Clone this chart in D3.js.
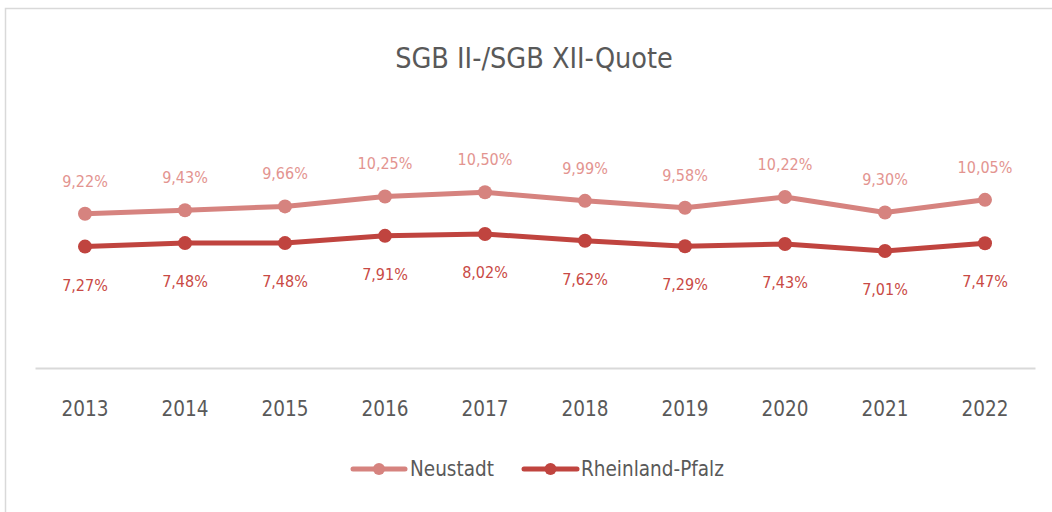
<!DOCTYPE html>
<html><head><meta charset="utf-8">
<script src="https://cdn.jsdelivr.net/npm/d3@7"></script>
<style>
html,body{margin:0;padding:0;background:#fff;}
svg text{font-family:"DejaVu Sans Condensed","Open Sans",sans-serif;}
</style></head>
<body><svg id="c" width="1052" height="512"></svg>
<script>
const years = ["2013","2014","2015","2016","2017","2018","2019","2020","2021","2022"];
const neustadt = [9.22,9.43,9.66,10.25,10.50,9.99,9.58,10.22,9.30,10.05];
const rlp = [7.27,7.48,7.48,7.91,8.02,7.62,7.29,7.43,7.01,7.47];
const seriesNames = ["Neustadt","Rheinland-Pfalz"];
const title = "SGB II-/SGB XII-Quote";

const svg = d3.select("#c");
svg.append("rect").attr("x",5.5).attr("y",8.5).attr("width",1060).attr("height",520)
  .attr("fill","#fff").attr("stroke","#d9d9d9").attr("stroke-width",1.5);

svg.append("text").attr("x",534).attr("y",68).attr("text-anchor","middle")
  .attr("font-size",28.5).attr("fill","#595959").text(title);

const x = d3.scaleBand().domain(years).range([35,1035]);
const y = d3.scaleLinear().domain([0,12]).range([369,167]);

const axis = svg.append("g").attr("transform","translate(0,368)")
  .call(d3.axisBottom(x).tickSize(0).tickPadding(33));
axis.select(".domain").attr("stroke","#d9d9d9").attr("stroke-width",2);
axis.selectAll("text").attr("font-size",20.5).attr("fill","#595959")
  .style("font-family",'"DejaVu Sans Condensed","Open Sans",sans-serif');

const cx = d => x(d)+x.bandwidth()/2;
const fmt = v => v.toFixed(2).replace(".",",")+"%";
const series = [
  {name:seriesNames[0], vals:neustadt, color:"#d6837f", label:"#e39490", dy:-27},
  {name:seriesNames[1], vals:rlp, color:"#c0443f", label:"#c94a45", dy:44}
];
const line = d3.line().x((d,i)=>cx(years[i])).y(d=>y(d));
series.forEach(s=>{
  svg.append("path").datum(s.vals).attr("d",line).attr("fill","none")
    .attr("stroke",s.color).attr("stroke-width",5).attr("stroke-linejoin","round").attr("stroke-linecap","round");
  svg.selectAll(null).data(s.vals).enter().append("circle")
    .attr("cx",(d,i)=>cx(years[i])).attr("cy",d=>y(d)).attr("r",7).attr("fill",s.color);
  svg.selectAll(null).data(s.vals).enter().append("text")
    .attr("x",(d,i)=>cx(years[i])).attr("y",d=>y(d)+s.dy).attr("text-anchor","middle")
    .attr("font-size",16).attr("fill",s.label).text(d=>fmt(d));
});

// legend
const leg = [{x0:353,x1:405,tx:410},{x0:524,x1:577,tx:581}];
series.forEach((s,i)=>{
  const L = leg[i], ly = 469;
  svg.append("line").attr("x1",L.x0).attr("x2",L.x1).attr("y1",ly).attr("y2",ly)
    .attr("stroke",s.color).attr("stroke-width",5).attr("stroke-linecap","round");
  svg.append("circle").attr("cx",(L.x0+L.x1)/2).attr("cy",ly).attr("r",6).attr("fill",s.color);
  svg.append("text").attr("x",L.tx).attr("y",ly+7).attr("font-size",20.5).attr("fill","#595959").text(s.name);
});
</script></body></html>
